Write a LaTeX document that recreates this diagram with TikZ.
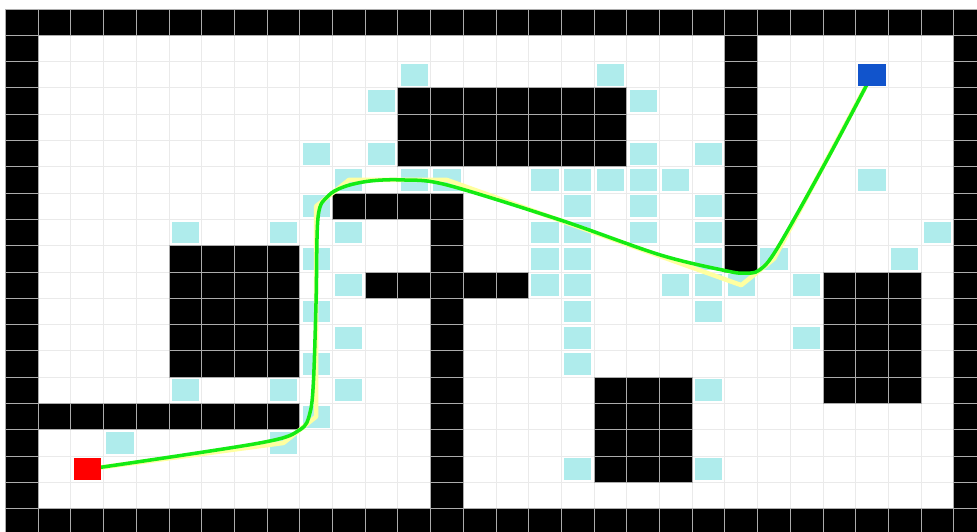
\documentclass[tikz,border=0pt]{standalone}
\usepackage{tikz}
\usetikzlibrary{positioning}
\definecolor{mapseen}{RGB}{175,236,236}
\definecolor{mapstart}{RGB}{255,0,0}
\definecolor{mapgoal}{RGB}{17,84,204}
\definecolor{mapraw}{RGB}{255,255,160}
\definecolor{mapsmooth}{RGB}{20,235,20}
\definecolor{mapgrid}{RGB}{234,234,234}

\begin{document}
\begin{tikzpicture}[x=0.8175cm, y=-0.6575cm,
  gridline/.style={draw=mapgrid, line width=0.7pt},
  wall/.style={fill=black, draw=gray!65, line width=0.6pt},
  seen/.style={fill=mapseen},
  cellmark/.style={minimum width=0.68cm, minimum height=0.54cm, inner sep=0pt, draw=none},
  rawpath/.style={draw=mapraw, line width=3.2pt, line join=round},
  smoothpath/.style={draw=mapsmooth, line width=2.5pt, line cap=round}]
\useasboundingbox (-0.168,-0.342) rectangle (29.71,19.886);
\clip (-0.168,-0.342) rectangle (29.71,19.886);
\fill[white] (-0.168,-0.342) rectangle (29.71,19.886);
\foreach \c in {0,...,30} \draw[gridline] (\c,0) -- (\c,20);
\foreach \r in {0,...,20} \draw[gridline] (0,\r) -- (30,\r);
\foreach \c/\r in {12/2, 18/2, 11/3, 19/3, 9/5, 11/5, 19/5, 21/5,
    10/6, 12/6, 13/6, 16/6, 17/6, 18/6, 19/6, 20/6, 26/6,
    9/7, 17/7, 19/7, 21/7, 5/8, 8/8, 10/8, 16/8, 17/8, 19/8, 21/8, 28/8,
    9/9, 16/9, 17/9, 21/9, 23/9, 27/9, 10/10, 16/10, 17/10, 20/10, 21/10, 22/10, 24/10,
    9/11, 17/11, 21/11, 10/12, 17/12, 24/12, 9/13, 17/13, 5/14, 8/14, 10/14, 21/14,
    9/15, 3/16, 8/16, 17/17, 21/17}
  \fill[seen] (\c+0.085,\r+0.085) rectangle ++(0.83,0.83);
\foreach \ca/\ra/\cb/\rb in {0/0/29/0, 0/19/29/19, 0/1/0/18, 29/1/29/18, 22/1/22/9,
    12/3/18/5, 10/7/13/7, 13/8/13/18, 11/10/15/10, 5/9/8/13, 1/15/8/15,
    18/14/20/17, 25/10/27/14}
  \foreach \c in {\ca,...,\cb} \foreach \r in {\ra,...,\rb}
    \draw[wall] (\c,\r) rectangle ++(1,1);
\coordinate (startpt) at (2.5,17.5);
\coordinate (goalpt) at (26.5,2.5);
\draw[rawpath] (startpt) -- (8.5,16.5) -- (9.5,15.5) -- (9.5,7.5) -- (10.5,6.5)
  -- (13.5,6.5) -- (22.5,10.5) -- (23.5,9.5) -- (goalpt);
\draw[smoothpath] plot[smooth, tension=0.55] coordinates {(startpt) (7.78,16.5) (9.0,16.0)
  (9.31,15.36) (9.42,14.1) (9.5,11.0) (9.56,7.9) (9.85,7.13) (10.35,6.76) (11.15,6.54)
  (12.16,6.5) (13.5,6.69) (16.96,8.02) (20.02,9.35) (22.06,9.96) (22.6,10.04) (23.05,9.93)
  (23.6,9.1) (25.12,5.74) (goalpt)};
\node[cellmark, fill=mapstart] (start) at (startpt) {};
\node[cellmark, fill=mapgoal] (goal) at (goalpt) {};
\end{tikzpicture}
\end{document}
